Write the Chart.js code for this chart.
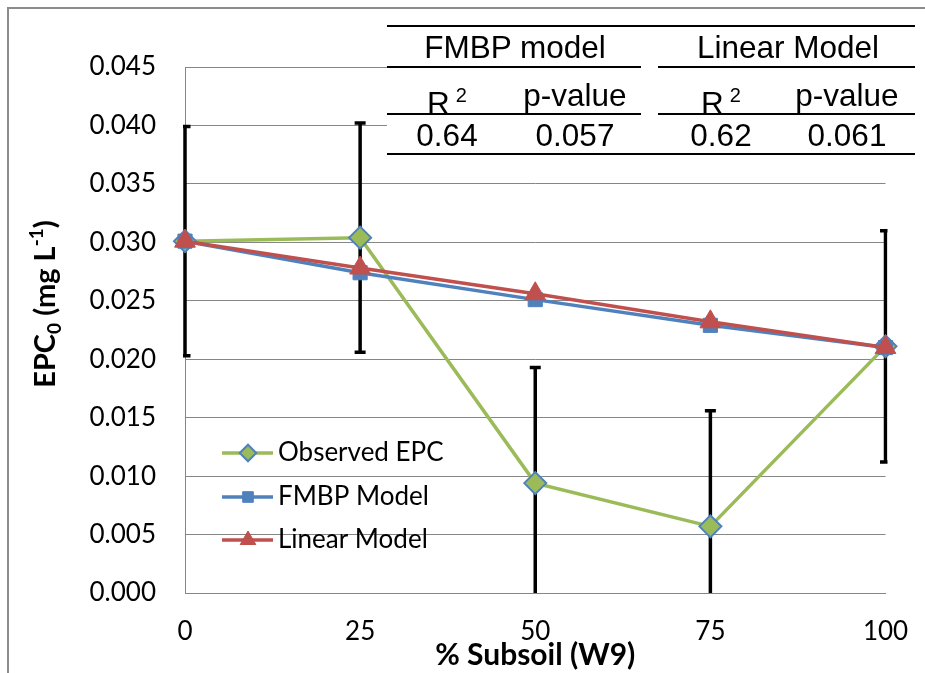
<!DOCTYPE html>
<html>
<head>
<meta charset="utf-8">
<script src="https://cdn.jsdelivr.net/npm/chart.js@4"></script>
<style>
  body { margin: 0; background: #fff; }
  #wrap { position: relative; width: 925px; height: 673px; overflow: hidden; }
  #frame { position: absolute; left: 7px; top: 7px; width: 930px; height: 680px;
           border-left: 2px solid #8c8c8c; border-top: 2px solid #8c8c8c; }
  #ytitle { position: absolute; left: 44px; top: 304px; transform: translate(-50%, -50%) rotate(-90deg);
            font: bold 29px Lato, sans-serif; white-space: nowrap; color: #000; }
  #ytitle sub { font-size: 19px; vertical-align: -6px; }
  #ytitle sup { font-size: 19px; vertical-align: 12px; }
  #tbl { position: absolute; left: 387px; top: 20px; width: 528px; height: 137px; background: #fff;
         font: 31.5px "Liberation Sans", Arial, sans-serif; color: #000; }
  .ln { position: absolute; height: 2px; background: #000; }
  .cell { position: absolute; width: 200px; text-align: center; line-height: 30px; white-space: nowrap; }
  .cell sup { font-size: 20px; vertical-align: 12px; margin-left: 6px; }
</style>
</head>
<body>
<div id="wrap">
  <canvas id="chart1" width="925" height="673"></canvas>
  <div id="frame"></div>
  <div id="ytitle">EPC<sub>0</sub> (mg L<sup>-1</sup>)</div>
  <div id="tbl"></div>
</div>
<script>
// data
const xLabels = ['0', '25', '50', '75', '100'];
const observed = [0.0301, 0.0304, 0.0094, 0.0057, 0.0211];
const observedErr = [0.0098, 0.0098, 0.0099, 0.0099, 0.0099];
const fmbp = [0.0301, 0.0274, 0.0251, 0.0229, 0.0210];
const linear = [0.0301, 0.0278, 0.0256, 0.0232, 0.0210];

// stats table
const groups = ['FMBP model', 'Linear Model'];
const statHeads = ['R', 'p-value'];
const statVals = [['0.64', '0.057'], ['0.62', '0.061']];

const tickFont = { family: 'Lato', size: 26 };

// build the table overlay (coordinates relative to #tbl, which starts at x=387, y=20)
const tbl = document.getElementById('tbl');
function addLine(x1, x2, y) {
    const d = document.createElement('div');
    d.className = 'ln';
    d.style.left = x1 + 'px';
    d.style.width = (x2 - x1) + 'px';
    d.style.top = (y - 1) + 'px';
    tbl.appendChild(d);
}
function addCell(cx, baseline, html) {
    const d = document.createElement('div');
    d.className = 'cell';
    d.style.left = (cx - 100) + 'px';
    d.style.top = (baseline - 26) + 'px';
    d.innerHTML = html;
    tbl.appendChild(d);
}
const ox = 387, oy = 20;
addLine(0, 528, 26 - oy);
addLine(0, 641 - ox, 67 - oy);
addLine(658 - ox, 528, 67 - oy);
addLine(0, 641 - ox, 114 - oy);
addLine(658 - ox, 528, 114 - oy);
addLine(0, 528, 154 - oy);
const groupCx = [515, 788];
const colCx = [[447, 575], [721, 847]];
groups.forEach((g, i) => {
    addCell(groupCx[i] - ox, 58 - oy, g);
    addCell(colCx[i][0] - ox, 106 - oy, statHeads[0] + '<sup>2</sup>');
    addCell(colCx[i][1] - ox, 106 - oy, statHeads[1]);
    addCell(colCx[i][0] - ox, 146 - oy, statVals[i][0]);
    addCell(colCx[i][1] - ox, 146 - oy, statVals[i][1]);
});

// error bars on the observed series, clipped to the plot area (a little slack left/right)
const errorBars = {
    id: 'errorBars',
    beforeDatasetsDraw(chart) {
        const { ctx, chartArea, scales } = chart;
        ctx.save();
        ctx.beginPath();
        ctx.rect(chartArea.left - 2, chartArea.top, chartArea.right - chartArea.left + 4, chartArea.bottom - chartArea.top);
        ctx.clip();
        ctx.strokeStyle = '#000';
        ctx.lineWidth = 3.5;
        observed.forEach((v, i) => {
            const x = scales.x.getPixelForValue(i);
            const yTop = scales.y.getPixelForValue(v + observedErr[i]);
            const yBot = scales.y.getPixelForValue(v - observedErr[i]);
            ctx.beginPath();
            ctx.moveTo(x, yTop);
            ctx.lineTo(x, yBot);
            ctx.moveTo(x - 5.5, yTop);
            ctx.lineTo(x + 5.5, yTop);
            ctx.moveTo(x - 5.5, yBot);
            ctx.lineTo(x + 5.5, yBot);
            ctx.stroke();
        });
        ctx.restore();
    }
};

// legend inside the plot, Excel style (line through marker)
const insideLegend = {
    id: 'insideLegend',
    afterDraw(chart) {
        const ctx = chart.ctx;
        const rows = [453, 497, 540];
        ctx.save();
        chart.data.datasets.forEach((ds, i) => {
            const y = rows[i];
            ctx.strokeStyle = ds.borderColor;
            ctx.lineWidth = ds.borderWidth;
            ctx.beginPath();
            ctx.moveTo(222, y);
            ctx.lineTo(273, y);
            ctx.stroke();
            ctx.fillStyle = ds.pointBackgroundColor;
            ctx.strokeStyle = ds.pointBorderColor;
            ctx.lineWidth = ds.pointBorderWidth;
            Chart.helpers.drawPoint(ctx, {
                pointStyle: ds.pointStyle, rotation: 0,
                radius: ds.pointRadius * 0.75, borderWidth: ds.pointBorderWidth
            }, 248, y);
            ctx.fillStyle = '#000';
            ctx.font = tickFont.size + 'px ' + tickFont.family;
            ctx.textAlign = 'left';
            ctx.textBaseline = 'middle';
            ctx.fillText(ds.label, 278, y);
        });
        ctx.restore();
    }
};

const ctx1 = document.getElementById('chart1').getContext('2d');
const chart1 = new Chart(ctx1, {
    type: 'line',
    data: {
        labels: xLabels,
        datasets: [{
            label: 'Observed EPC',
            data: observed,
            borderColor: '#9BBB59',
            borderWidth: 3.5,
            pointStyle: 'rectRot',
            pointRadius: 11,
            pointBackgroundColor: '#9BBB59',
            pointBorderColor: '#4F81BD',
            pointBorderWidth: 2,
            order: 3
        }, {
            label: 'FMBP Model',
            data: fmbp,
            borderColor: '#4F81BD',
            borderWidth: 3.5,
            pointStyle: 'rect',
            pointRadius: 10,
            pointBackgroundColor: '#4F81BD',
            pointBorderColor: '#4F81BD',
            pointBorderWidth: 1,
            order: 2
        }, {
            label: 'Linear Model',
            data: linear,
            borderColor: '#C0504D',
            borderWidth: 3.5,
            pointStyle: 'triangle',
            pointRadius: 12,
            pointBackgroundColor: '#C0504D',
            pointBorderColor: '#C0504D',
            pointBorderWidth: 1,
            order: 1
        }]
    },
    options: {
        responsive: false,
        animation: false,
        clip: false,
        layout: { padding: { top: 67, right: 39.5, left: 0, bottom: 0 } },
        plugins: { legend: { display: false }, tooltip: { enabled: false } },
        elements: { line: { tension: 0 } },
        scales: {
            x: {
                offset: false,
                grid: { display: false },
                border: { display: true, color: '#868686', width: 1 },
                ticks: { color: '#000', font: tickFont, padding: 15, maxRotation: 0 },
                title: {
                    display: true, text: '% Subsoil (W9)', color: '#000',
                    font: { family: 'Lato', size: 30, weight: 'bold' }, padding: 0
                },
                afterFit(scale) {
                    scale.height = 80;
                    scale.paddingLeft = 0;
                    scale.paddingRight = 0;
                }
            },
            y: {
                min: 0,
                max: 0.045,
                grid: { color: '#868686', drawTicks: false },
                border: { display: true, color: '#868686', width: 1 },
                ticks: {
                    stepSize: 0.005, color: '#000', font: tickFont, padding: 29,
                    callback: v => v.toFixed(3)
                },
                afterFit(scale) { scale.width = 185; }
            }
        }
    },
    plugins: [errorBars, insideLegend]
});
</script>
</body>
</html>
